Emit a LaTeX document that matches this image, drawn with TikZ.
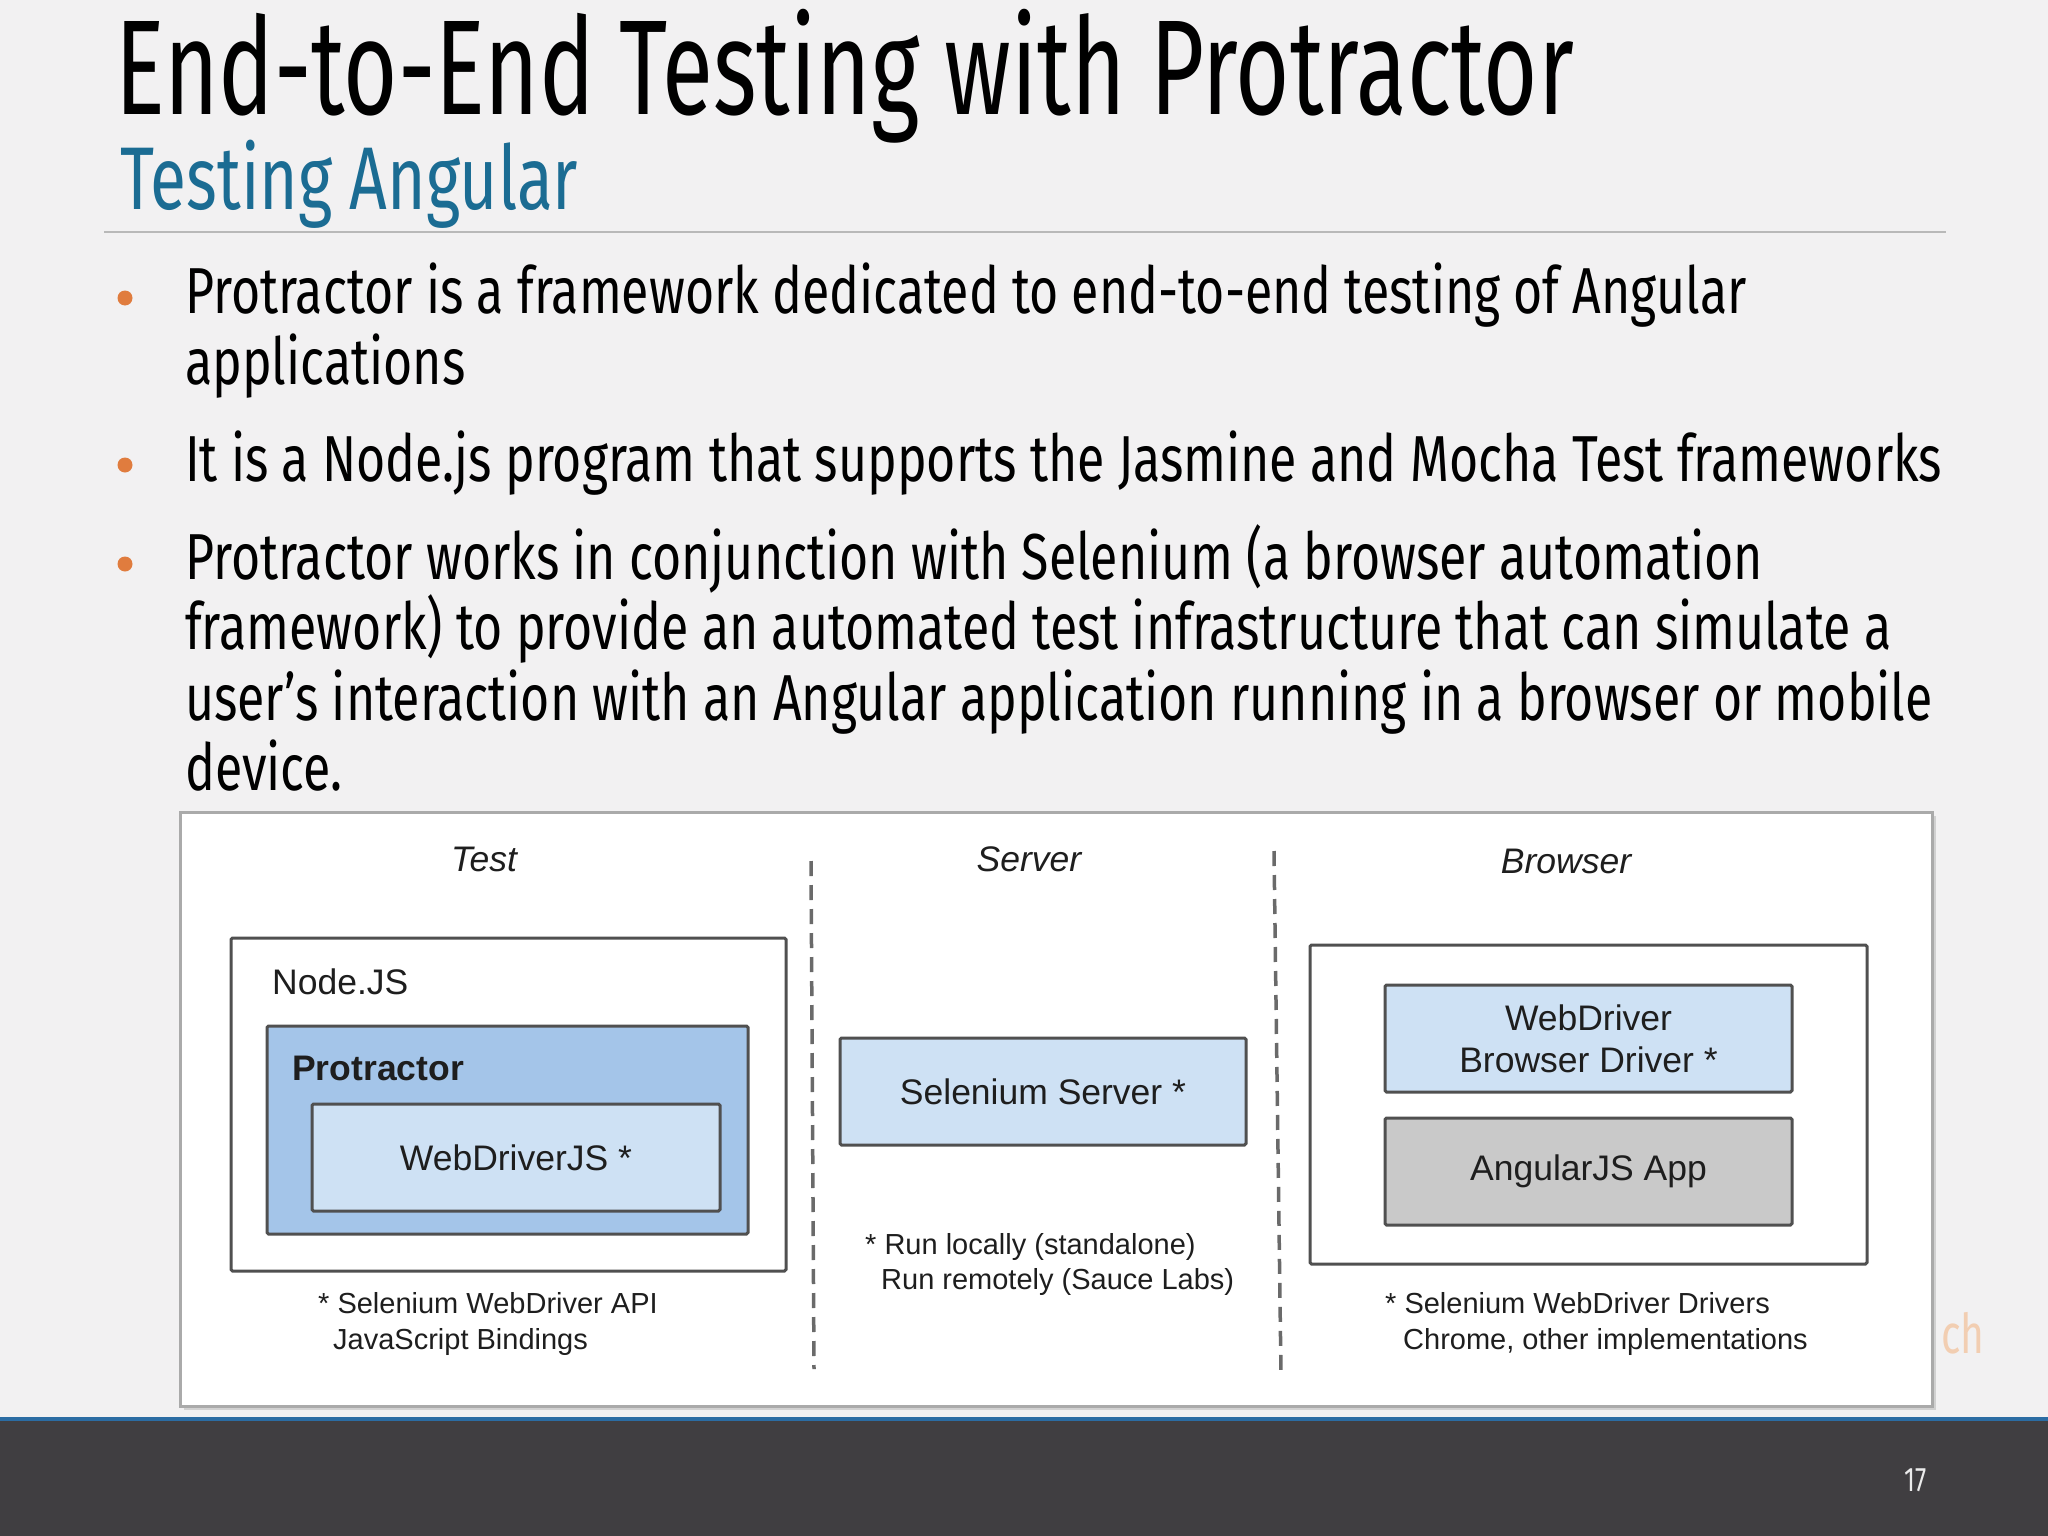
\documentclass[tikz,border=0pt]{standalone}
\usepackage{fontspec}
\setmainfont{Fira Sans}[FakeStretch=0.74]
\newfontfamily\titlefont{Fira Sans}[FakeStretch=0.69]
\newfontfamily\bodyfont{Fira Sans}[FakeStretch=0.77]
\newfontfamily\diagfont{Liberation Sans}
\definecolor{bgc}{RGB}{242,241,242}
\definecolor{footc}{RGB}{64,62,65}
\definecolor{footline}{RGB}{43,108,163}
\definecolor{subc}{RGB}{27,108,147}
\definecolor{bulc}{RGB}{224,124,62}
\definecolor{rulec}{RGB}{185,185,185}
\definecolor{framec}{RGB}{170,170,170}
\definecolor{boxline}{RGB}{80,80,80}
\definecolor{protc}{RGB}{164,197,233}
\definecolor{lightbc}{RGB}{206,225,244}
\definecolor{angc}{RGB}{201,201,201}
\definecolor{diagtext}{RGB}{30,30,30}
\definecolor{chc}{RGB}{242,206,178}
\tikzset{
  titletext/.style={anchor=base west, inner sep=0, font=\titlefont\fontsize{135}{150}\selectfont, text=black},
  subtext/.style={anchor=base west, inner sep=0, font=\fontsize{89}{100}\selectfont, text=subc},
  bodytext/.style={anchor=base west, inner sep=0, font=\bodyfont\fontsize{65}{71}\selectfont, text=black},
  bulletdot/.style={fill=bulc},
  dlabel/.style={anchor=base, inner sep=0, font=\diagfont\itshape\fontsize{35.5}{40}\selectfont, text=diagtext},
  dtext/.style={inner sep=0, font=\diagfont\fontsize{35.5}{42}\selectfont, text=diagtext},
  fnote/.style={anchor=base west, inner sep=0, font=\diagfont\fontsize{29}{34}\selectfont, text=diagtext},
  boxbase/.style={draw=boxline, line width=3pt, rounded corners=1.5pt, inner sep=0},
  divider/.style={draw=boxline!85, line width=3.5pt, dash pattern=on 15pt off 9pt},
}
\begin{document}
\begin{tikzpicture}[x=1pt,y=-1pt]
\useasboundingbox (0,0) rectangle (2048,1536);
\fill[bgc] (0,0) rectangle (2048,1536);
% footer
\fill[footc] (0,1421) rectangle (2048,1536);
\fill[footline] (0,1417) rectangle (2048,1421);
\node[anchor=base, inner sep=0, font=\fontsize{34}{40}\selectfont, text=white!92!black] (pageno) at (1916,1491) {17};
% title
\node[titletext] (title) at (115,115) {End-to-End Testing with Protractor};
\node[subtext] (subtitle) at (120,209) {Testing Angular};
\draw[rulec, line width=2pt] (104,232) -- (1946,232);
% bullets
\fill[bulletdot] (125,298) circle (7.5);
\fill[bulletdot] (125,465) circle (7.5);
\fill[bulletdot] (125,564) circle (7.5);
\node[bodytext] (l1) at (185,313) {Protractor is a framework dedicated to end-to-end testing of Angular};
\node[bodytext] (l2) at (185,384) {applications};
\node[bodytext] (l3) at (185,481) {It is a Node.js program that supports the Jasmine and Mocha Test frameworks};
\node[bodytext] (l4) at (185,579) {Protractor works in conjunction with Selenium (a browser automation};
\node[bodytext] (l5) at (185,649) {framework) to provide an automated test infrastructure that can simulate a};
\node[bodytext] (l6) at (185,720) {user’s interaction with an Angular application running in a browser or mobile};
\node[bodytext] (l7) at (185,790) {device.};
\node[anchor=base west, inner sep=0, font=\fontsize{55}{60}\selectfont, text=chc] (ch) at (1941,1353) {ch};
% diagram frame
\fill[black!18] (184,816) rectangle (1936,1410);
\node[draw=framec, fill=white, line width=3pt, inner sep=0, minimum width=1752pt, minimum height=594pt] (frame) at (1056,1109) {};
% column labels
\node[dlabel] (ltest) at (484,871) {Test};
\node[dlabel] (lserver) at (1029,871) {Server};
\node[dlabel] (lbrowser) at (1566,873) {Browser};
% dividers
\coordinate (d1t) at (811,861);
\coordinate (d1b) at (814,1369);
\coordinate (d2t) at (1274,851);
\coordinate (d2b) at (1281,1375);
\draw[divider] (d1t) -- (d1b);
\draw[divider] (d2t) -- (d2b);
% Test column
\node[boxbase, fill=white, minimum width=555pt, minimum height=333pt] (nodejs) at (508.5,1104.5) {};
\node[dtext, anchor=base west] (nodejslbl) at (272,994) {Node.JS};
\node[boxbase, fill=protc, minimum width=481pt, minimum height=208pt] (prot) at (507.5,1130) {};
\node[dtext, anchor=base west, font=\diagfont\bfseries\fontsize{35.5}{42}\selectfont] (protlbl) at (292,1080) {Protractor};
\node[boxbase, fill=lightbc, dtext, minimum width=408pt, minimum height=107pt] (wdjs) at (516,1157.5) {WebDriverJS *};
\node[fnote] (f1a) at (318,1313) {* Selenium WebDriver API};
\node[fnote] (f1b) at (333,1349) {JavaScript Bindings};
% Server column
\node[boxbase, fill=lightbc, dtext, minimum width=406pt, minimum height=107pt] (sel) at (1043,1091.5) {Selenium Server *};
\node[fnote] (f2a) at (865,1254) {* Run locally (standalone)};
\node[fnote] (f2b) at (881,1289) {Run remotely (Sauce Labs)};
% Browser column
\node[boxbase, fill=white, minimum width=557pt, minimum height=319pt] (brow) at (1588.5,1104.5) {};
\node[boxbase, fill=lightbc, dtext, align=center, minimum width=407pt, minimum height=107pt] (wd) at (1588.5,1038.5) {WebDriver\\Browser Driver *};
\node[boxbase, fill=angc, dtext, minimum width=407pt, minimum height=107pt] (ang) at (1588.5,1171.5) {AngularJS App};
\node[fnote] (f3a) at (1385,1313) {* Selenium WebDriver Drivers};
\node[fnote] (f3b) at (1403,1349) {Chrome, other implementations};
\end{tikzpicture}
\end{document}
